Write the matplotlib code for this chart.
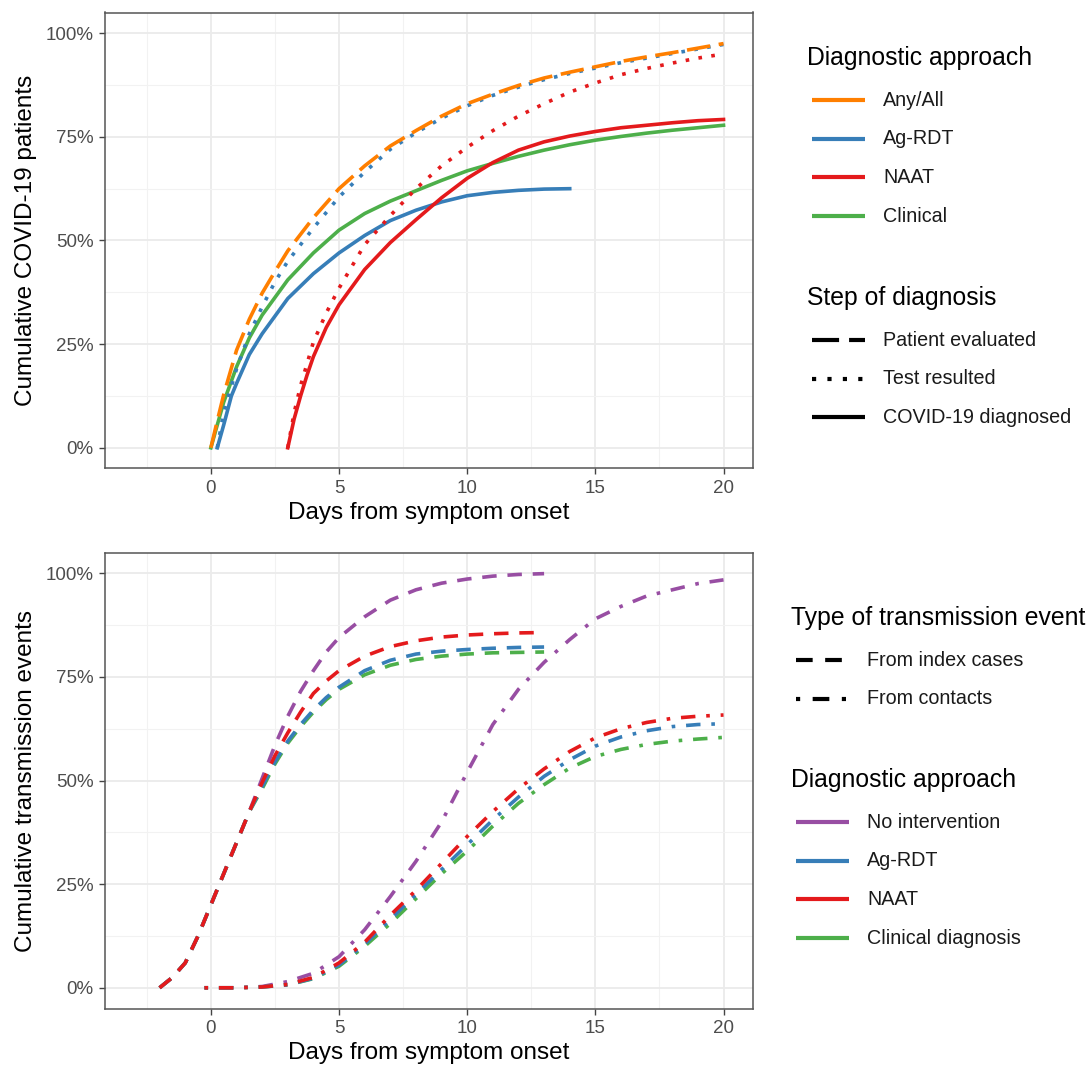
import matplotlib
matplotlib.use("Agg")
import matplotlib.pyplot as plt
from matplotlib.lines import Line2D
from matplotlib.ticker import MultipleLocator, FuncFormatter

plt.rcParams['font.family'] = ['Liberation Sans', 'DejaVu Sans']

# colours (ColorBrewer Set1)
ORANGE, BLUE, RED, GREEN, PURPLE = '#FF7F00', '#377EB8', '#E41A1C', '#4DAF4A', '#984EA3'

# ---- top panel: cumulative COVID-19 patients (%), by day from symptom onset
eval_days = [0, 0.25, 0.5, 1, 1.5, 2, 2.5, 3, 4, 5, 6, 7, 8, 9, 10, 11, 12, 13, 14, 15, 16, 17, 18, 19, 20]
eval_any = [0, 6.5, 12.8, 23.5, 31, 37.3, 42.5, 47.5, 55.5, 62.5, 68, 72.8, 76.5, 80, 83, 85.3, 87.4,
            89.2, 90.6, 91.9, 93.2, 94.3, 95.3, 96.4, 97.5]

agrdt_test_days = [0.25, 0.5, 1, 1.5, 2, 2.5, 3, 4, 5, 6, 7, 8, 9, 10, 11, 12, 13, 14, 15, 16, 17, 18, 19, 20]
agrdt_test = [0, 8.5, 19, 27.5, 34, 40, 45, 53, 60.5, 66.5, 72, 76, 79.5, 82.5, 85, 87, 88.8, 90.3,
              91.6, 92.9, 94, 95.1, 96.2, 97.3]

naat_test_days = [3, 3.25, 3.5, 4, 4.5, 5, 6, 7, 8, 9, 10, 11, 12, 13, 14, 15, 16, 17, 18, 19, 20]
naat_test = [0, 8.5, 15, 25.5, 32.5, 38.5, 49, 56, 62.5, 68, 72.5, 76.5, 80, 83, 85.8, 88, 90, 91.5,
             92.8, 94, 95]

agrdt_diag_days = [0.25, 0.5, 0.8, 1, 1.5, 2, 3, 4, 5, 6, 7, 8, 9, 10, 11, 12, 13, 14]
agrdt_diag = [0, 5.5, 12.5, 15.5, 22.5, 27.5, 36, 42, 47, 51.2, 54.8, 57.3, 59.3, 60.8, 61.6, 62.1, 62.4, 62.5]

naat_diag_days = [3, 3.25, 3.5, 3.75, 4, 4.5, 5, 6, 7, 8, 9, 10, 11, 12, 13, 14, 15, 16, 17, 18, 19, 20]
naat_diag = [0, 7, 12.5, 17.5, 22, 29, 34.5, 43, 49.5, 55, 60.3, 65, 68.8, 71.8, 73.8, 75.2, 76.3,
             77.2, 77.8, 78.4, 78.9, 79.2]

clin_diag_days = [0, 0.25, 0.5, 1, 1.5, 2, 3, 4, 5, 6, 7, 8, 9, 10, 11, 12, 13, 14, 15, 16, 17, 18, 19, 20]
clin_diag = [0, 5.5, 11, 19.5, 26.5, 32, 40.5, 47, 52.5, 56.5, 59.5, 62, 64.5, 66.8, 68.6, 70.3, 71.8,
             73.1, 74.2, 75.1, 75.9, 76.6, 77.2, 77.8]

# ---- bottom panel: cumulative transmission events (%)
index_days = [-2, -1.5, -1, -0.5, 0, 0.5, 1, 1.5, 2, 2.5, 3, 3.5, 4, 4.5, 5, 6, 7, 8, 9, 10, 11, 12, 13]
index_none = [0, 2.5, 6, 12.5, 20, 27.5, 35, 42.5, 50.5, 58.5, 65.5, 71.5, 76.5, 81, 84.5, 89.5, 93.5,
              96, 97.6, 98.6, 99.3, 99.7, 99.9]
index_naat = [0, 2.5, 6, 12.5, 20, 27.5, 35, 42.5, 49.5, 56, 61.5, 66.5, 71, 74, 76.5, 80, 82.3, 83.7,
              84.6, 85.1, 85.4, 85.6, 85.7]
index_agrdt = [0, 2.5, 6, 12.5, 20, 27.5, 35, 42.5, 48.5, 54.5, 59.5, 63.5, 67, 70, 72.5, 76.5, 79, 80.5,
               81.2, 81.6, 81.9, 82.1, 82.2]
index_clin = [0, 2.5, 6, 12.5, 20, 27.5, 35, 42.5, 48, 54, 59, 63, 66.5, 69.5, 72, 75.5, 77.8, 79.2, 80,
              80.5, 80.8, 80.9, 81]

contact_days = [-0.25, 1, 2, 3, 4, 5, 6, 7, 8, 9, 10, 11, 12, 13, 14, 15, 16, 17, 18, 19, 20]
contact_none = [0, 0, 0.3, 1.5, 3.5, 7.5, 14, 22, 30.5, 40, 52, 63.5, 72, 78.5, 84, 89, 92, 94.5, 96, 97.5, 98.4]
contact_naat = [0, 0, 0.2, 0.8, 2.5, 6, 11, 17.5, 23.5, 30, 36.5, 42.5, 48, 52.8, 57, 60.3, 62.5, 64, 65,
                65.5, 65.8]
contact_agrdt = [0, 0, 0.2, 0.7, 2.3, 5.5, 10.5, 16.5, 22.5, 28.5, 34.5, 40.5, 46, 51, 55, 58.3, 60.5, 62,
                 63, 63.5, 63.7]
contact_clin = [0, 0, 0.2, 0.7, 2.2, 5.2, 10, 15.5, 21.5, 27.5, 33, 39, 44.5, 49, 53, 55.8, 57.5, 58.7,
                59.5, 60, 60.4]

LONGDASH = (0, (6.5, 2.4))
DASHED = (0, (4, 3))
DOTTED = (0, (1, 2.6))
DOTDASH = (0, (1, 3, 4, 3))
LW = 2.6

W, H = 1090, 1068
fig = plt.figure(figsize=(W / 100, H / 100), dpi=100)


def fx(px):
    return px / W


def fy(py):
    return 1 - py / H


def style_axes(ax, ylabel):
    ax.set_xlim(-4.15, 21.15)
    ax.set_ylim(-5, 105)
    ax.xaxis.set_major_locator(MultipleLocator(5))
    ax.xaxis.set_minor_locator(MultipleLocator(2.5))
    ax.yaxis.set_major_locator(MultipleLocator(25))
    ax.yaxis.set_minor_locator(MultipleLocator(12.5))
    ax.yaxis.set_major_formatter(FuncFormatter(lambda v, p: '{:.0f}%'.format(v)))
    ax.grid(True, which='major', color='#EBEBEB', lw=1.3, zorder=0)
    ax.grid(True, which='minor', color='#F2F2F2', lw=0.8, zorder=0)
    ax.set_axisbelow(True)
    ax.tick_params(which='minor', length=0)
    ax.tick_params(which='major', length=4, width=1, color='#444444',
                   labelsize=13.5, labelcolor='#4D4D4D', pad=4)
    for s in ax.spines.values():
        s.set_color('#555555')
        s.set_linewidth(1.1)
    ax.set_xlabel('Days from symptom onset', fontsize=17.5, labelpad=4)
    ax.set_ylabel(ylabel, fontsize=17.5, labelpad=6)


ax1 = fig.add_axes([fx(104.5), fy(468.5), fx(753) - fx(104.5), fy(12.5) - fy(468.5)])
ax1.plot(agrdt_diag_days, agrdt_diag, color=BLUE, lw=LW)
ax1.plot(clin_diag_days, clin_diag, color=GREEN, lw=LW)
ax1.plot(naat_diag_days, naat_diag, color=RED, lw=LW)
ax1.plot(naat_test_days, naat_test, color=RED, lw=LW, ls=DOTTED)
ax1.plot(agrdt_test_days, agrdt_test, color=BLUE, lw=LW, ls=DOTTED)
ax1.plot(eval_days, eval_any, color=ORANGE, lw=LW, ls=LONGDASH)
style_axes(ax1, 'Cumulative COVID-19 patients')

ax2 = fig.add_axes([fx(104.5), fy(1008.5), fx(753) - fx(104.5), fy(552.5) - fy(1008.5)])
ax2.plot(index_days, index_none, color=PURPLE, lw=LW, ls=DASHED)
ax2.plot(contact_days, contact_none, color=PURPLE, lw=LW, ls=DOTDASH)
ax2.plot(index_days, index_clin, color=GREEN, lw=LW, ls=DASHED)
ax2.plot(contact_days, contact_clin, color=GREEN, lw=LW, ls=DOTDASH)
ax2.plot(index_days, index_agrdt, color=BLUE, lw=LW, ls=DASHED)
ax2.plot(contact_days, contact_agrdt, color=BLUE, lw=LW, ls=DOTDASH)
ax2.plot(index_days, index_naat, color=RED, lw=LW, ls=DASHED)
ax2.plot(contact_days, contact_naat, color=RED, lw=LW, ls=DOTDASH)
style_axes(ax2, 'Cumulative transmission events')


def legend_block(x, title_y, title, items, dy=38.7):
    # manual ggplot-style legend in pixel coordinates
    fig.text(fx(x), fy(title_y), title, fontsize=17.8, va='center', ha='left')
    for i, (label, color, ls) in enumerate(items):
        y = title_y + 42 + i * dy
        fig.add_artist(Line2D([fx(x + 5), fx(x + 58)], [fy(y), fy(y)], color=color,
                              lw=3, ls=ls, solid_capstyle='butt', dash_capstyle='butt'))
        fig.text(fx(x + 76), fy(y), label, fontsize=14.2, color='#1A1A1A', va='center', ha='left')


legend_block(807, 58, 'Diagnostic approach', [
    ('Any/All', ORANGE, '-'), ('Ag-RDT', BLUE, '-'), ('NAAT', RED, '-'), ('Clinical', GREEN, '-')])
legend_block(807, 298, 'Step of diagnosis', [
    ('Patient evaluated', 'black', LONGDASH), ('Test resulted', 'black', (0, (1, 2.7))),
    ('COVID-19 diagnosed', 'black', '-')])
legend_block(791, 618, 'Type of transmission event', [
    ('From index cases', 'black', DASHED), ('From contacts', 'black', DOTDASH)])
legend_block(791, 780, 'Diagnostic approach', [
    ('No intervention', PURPLE, '-'), ('Ag-RDT', BLUE, '-'), ('NAAT', RED, '-'),
    ('Clinical diagnosis', GREEN, '-')])

fig.savefig('out.png', dpi=100, facecolor='white')
